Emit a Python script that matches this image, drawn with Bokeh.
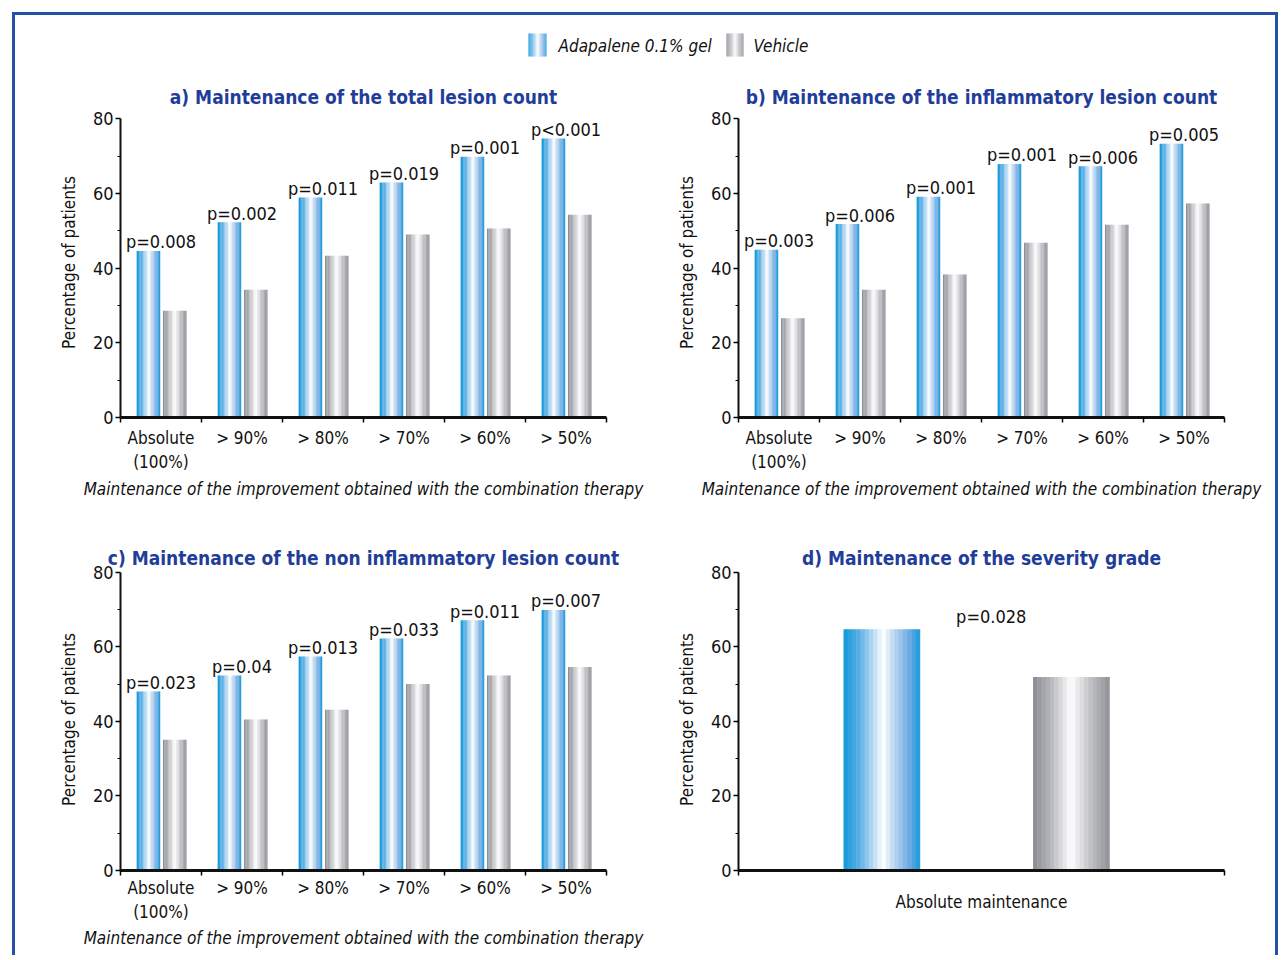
from bokeh.plotting import figure
from bokeh.layouts import column, row
from bokeh.models import Range1d, LinearAxis, FixedTicker, ColumnDataSource
from bokeh.core.properties import value
from bokeh.embed import file_html
from bokeh.resources import INLINE
import numpy as np

# ---------------- data ----------------
categories = ["Absolute\n(100%)", "> 90%", "> 80%", "> 70%", "> 60%", "> 50%"]
series_names = ["Adapalene 0.1% gel", "Vehicle"]

a_adapalene = [44.6, 52.3, 58.9, 62.9, 69.8, 74.7]
a_vehicle = [28.6, 34.2, 43.3, 49.0, 50.6, 54.3]
a_pvalues = ["p=0.008", "p=0.002", "p=0.011", "p=0.019", "p=0.001", "p<0.001"]

b_adapalene = [44.9, 51.8, 59.1, 67.9, 67.3, 73.3]
b_vehicle = [26.6, 34.2, 38.3, 46.8, 51.6, 57.3]
b_pvalues = ["p=0.003", "p=0.006", "p=0.001", "p=0.001", "p=0.006", "p=0.005"]

c_adapalene = [48.0, 52.3, 57.4, 62.2, 67.1, 69.9]
c_vehicle = [35.1, 40.5, 43.1, 50.0, 52.3, 54.6]
c_pvalues = ["p=0.023", "p=0.04", "p=0.013", "p=0.033", "p=0.011", "p=0.007"]

d_categories = ["Absolute maintenance"]
d_adapalene = [64.7]
d_vehicle = [51.9]
d_pvalues = ["p=0.028"]

titles = ["a) Maintenance of the total lesion count",
          "b) Maintenance of the inflammatory lesion count",
          "c) Maintenance of the non inflammatory lesion count",
          "d) Maintenance of the severity grade"]
x_title = "Maintenance of the improvement obtained with the combination therapy"
y_title = "Percentage of patients"
y_ticks = [0, 20, 40, 60, 80]

# ---------------- style ----------------
FONT = "DejaVu Sans Condensed, Roboto"
TITLE_COLOR = "#1f3d99"
FRAME_COLOR = "#2550a8"
INK = "#111111"
BLUE_STOPS = [(0.0, (16, 152, 217)), (0.2, (88, 174, 228)), (0.42, (200, 226, 246)),
              (0.52, (255, 255, 255)), (0.65, (192, 217, 241)), (0.86, (108, 170, 226)),
              (1.0, (24, 155, 220))]
GRAY_STOPS = [(0.0, (138, 139, 144)), (0.25, (186, 187, 191)), (0.5, (255, 255, 255)),
              (0.75, (192, 193, 197)), (1.0, (145, 146, 151))]
NSTRIP = 18


def grad_color(stops, t):
    ts = [s[0] for s in stops]
    rgb = [int(round(np.interp(t, ts, [s[1][k] for s in stops]))) for k in range(3)]
    return "#%02x%02x%02x" % tuple(rgb)


def strip_source(centers, tops, width, stops):
    xs, ts, cs = [], [], []
    for c, h in zip(centers, tops):
        for k in range(NSTRIP):
            t = (k + 0.5) / NSTRIP
            xs.append(c - width / 2 + t * width)
            ts.append(h)
            cs.append(grad_color(stops, t))
    return ColumnDataSource(dict(x=xs, top=ts, color=cs))


def panel(title, cats, blue, gray, pvals, y_end, mb, height, xlabel,
          offsets, bar_w, p_xoff, p_yoff, label_standoff, xlabel_standoff):
    n = len(cats)
    p = figure(width=630, height=height, x_range=Range1d(0, n), y_range=Range1d(0, y_end),
               output_backend="svg", toolbar_location=None,
               x_axis_location=None, y_axis_location=None,
               min_border_left=mb[0], min_border_right=mb[1],
               min_border_top=mb[2], min_border_bottom=mb[3],
               background_fill_color="white", border_fill_color="white")
    p.outline_line_color = None
    p.xgrid.visible = False
    p.ygrid.visible = False
    p.title.text = title
    p.title.align = "center"
    p.title.text_font = FONT
    p.title.text_font_size = "19px"
    p.title.text_font_style = "bold"
    p.title.text_color = TITLE_COLOR
    p.title.standoff = 0

    yax = LinearAxis(bounds=(0, 80), ticker=FixedTicker(ticks=y_ticks, minor_ticks=[10, 30, 50, 70]),
                     axis_label=y_title)
    yax.axis_line_width = 2
    yax.axis_line_color = INK
    yax.major_tick_out = 5
    yax.major_tick_in = 0
    yax.minor_tick_out = 3
    yax.minor_tick_in = 0
    yax.major_tick_line_width = 1.5
    yax.major_label_text_font = FONT
    yax.major_label_text_font_size = "18px"
    yax.major_label_text_color = INK
    yax.major_label_standoff = 2
    yax.axis_label_text_font = FONT
    yax.axis_label_text_font_size = "17px"
    yax.axis_label_text_font_style = "normal"
    yax.axis_label_text_color = INK
    yax.axis_label_standoff = 11
    p.add_layout(yax, "left")

    centers = [i + 0.5 for i in range(n)]
    xax = LinearAxis(ticker=FixedTicker(ticks=centers, minor_ticks=list(range(n + 1))),
                     major_label_overrides={c: lab for c, lab in zip(centers, cats)})
    xax.axis_line_width = 3
    xax.axis_line_color = INK
    xax.major_tick_out = 0
    xax.major_tick_in = 0
    xax.major_tick_line_color = None
    xax.minor_tick_out = 5
    xax.minor_tick_in = 0
    xax.minor_tick_line_width = 1.5
    xax.major_label_text_font = FONT
    xax.major_label_text_font_size = "17px"
    xax.major_label_text_color = INK
    xax.major_label_standoff = label_standoff
    if xlabel:
        xax.axis_label = xlabel
        xax.axis_label_text_font = FONT
        xax.axis_label_text_font_size = "17px"
        xax.axis_label_text_font_style = "italic"
        xax.axis_label_text_color = INK
        xax.axis_label_standoff = xlabel_standoff
    p.add_layout(xax, "below")

    p.vbar(x="x", top="top", bottom=0, width=bar_w / NSTRIP * 1.1, fill_color="color",
           line_color=None, source=strip_source([c + offsets[0] for c in centers], blue, bar_w, BLUE_STOPS))
    p.vbar(x="x", top="top", bottom=0, width=bar_w / NSTRIP * 1.1, fill_color="color",
           line_color=None, source=strip_source([c + offsets[1] for c in centers], gray, bar_w, GRAY_STOPS))

    p.text(x=[c + p_xoff for c in centers], y=blue, text=pvals, text_align="center",
           text_baseline="alphabetic", y_offset=p_yoff, text_font=value(FONT),
           text_font_size="18px", text_color=INK)
    return p


# ---------------- legend strip ----------------
leg = figure(width=1260, height=58, x_range=Range1d(0, 1260), y_range=Range1d(0, 58),
             output_backend="svg", toolbar_location=None,
             x_axis_location=None, y_axis_location=None,
             min_border=0, min_border_left=0, min_border_right=0,
             min_border_top=0, min_border_bottom=0,
             background_fill_color="white", border_fill_color="white")
leg.outline_line_color = None
leg.xgrid.visible = False
leg.ygrid.visible = False
sw_x = [522, 719.5]
sw_w = [18, 17]
for sx, sw, stops in zip(sw_x, sw_w, [BLUE_STOPS, GRAY_STOPS]):
    src = strip_source([sx], [40], sw, stops)
    leg.vbar(x="x", top="top", bottom=17, width=sw / NSTRIP * 1.1, fill_color="color",
             line_color=None, source=src)
leg.text(x=[543, 738], y=[28, 28], text=series_names, text_align="left",
         text_baseline="middle", text_font=value(FONT), text_font_size="17px",
         text_font_style="italic", text_color=INK)

# ---------------- panels ----------------
pa = panel(titles[0], categories, a_adapalene, a_vehicle, a_pvalues, 83,
           (105, 39, 34, 111), 455, x_title, (-0.155, 0.17), 0.29, 0.0, -9, 5, 4)
pb = panel(titles[1], categories, b_adapalene, b_vehicle, b_pvalues, 83,
           (93, 51, 34, 111), 455, x_title, (-0.155, 0.17), 0.29, 0.0, -9, 5, 4)
pc = panel(titles[2], categories, c_adapalene, c_vehicle, c_pvalues, 81,
           (105, 39, 40, 85), 427, x_title, (-0.155, 0.17), 0.29, 0.0, -9, 2, 3)
pd = panel(titles[3], d_categories, d_adapalene, d_vehicle, d_pvalues, 81,
           (93, 51, 40, 85), 427, None, (-0.205, 0.185), 0.157, 0.02, -13, 16, 3)

layout = column(leg, row(pa, pb, spacing=0), row(pc, pd, spacing=0), spacing=0,
                margin=(12, 0, 0, 12),
                styles={"border-top": "3px solid " + FRAME_COLOR,
                        "border-left": "3px solid " + FRAME_COLOR,
                        "border-right": "3px solid " + FRAME_COLOR})

open("out.html", "w").write(file_html(layout, INLINE))
